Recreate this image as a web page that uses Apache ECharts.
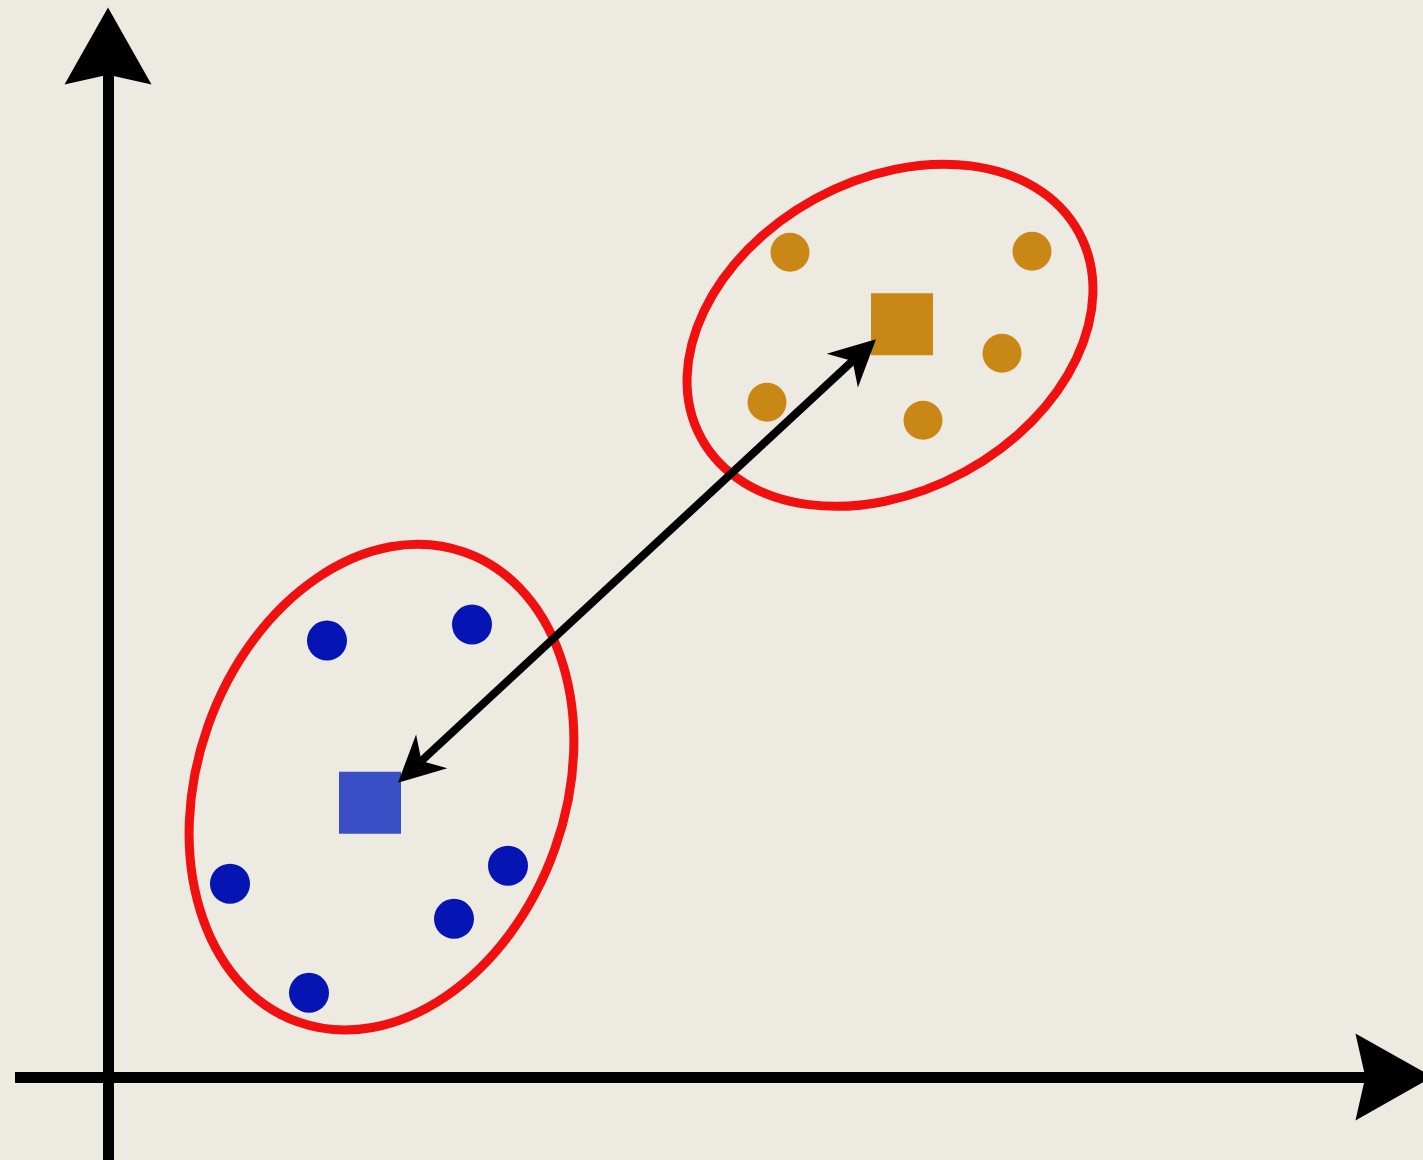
<!DOCTYPE html>
<html><head><meta charset="utf-8">
<script src="https://cdn.jsdelivr.net/npm/echarts@6/dist/echarts.min.js"></script>
<style>html,body{margin:0;padding:0;background:#EDEAE1;overflow:hidden}#c{width:1423px;height:1160px}</style>
</head><body><div id="c"></div>
<script>
// Cluster A (blue) members and centroid
const blueDots = [[2.19,4.36],[3.64,4.52],[1.22,1.93],[4.00,2.11],[3.46,1.58],[2.01,0.84]];
const blueCentroid = [[2.62,2.74]];
// Cluster B (gold) members and centroid
const goldDots = [[6.82,8.24],[9.24,8.25],[8.94,7.23],[6.59,6.74],[8.15,6.56]];
const goldCentroid = [[7.94,7.52]];
// cluster boundaries: [centerX, centerY, semiAxisX, semiAxisY, tiltDeg]
const clusterEllipses = [[2.735,2.895,1.84,2.49,-19.5],[7.82,7.41,2.15,1.555,28.6]];
// link between centroids: [x1, y1, x2, y2]
const centroidLink = [[2.90,2.94,7.68,7.37]];
// axis extents
const xRange = [-0.93, 12.86];
const yRange = [-0.83, 10.30];

const arrowPath = 'path://M0,0 L44,78 L0,68 L-44,78 Z';
const chart = echarts.init(document.getElementById('c'), null, {renderer:'canvas'});
const axisCommon = {
  type:'value',
  axisLine:{show:true,onZero:true,symbol:['none',arrowPath],symbolSize:[87,78],lineStyle:{color:'#000',width:11,cap:'butt'}},
  axisTick:{show:false},axisLabel:{show:false},splitLine:{show:false}
};
chart.setOption({
  animation:false,
  backgroundColor:'#EDEAE1',
  grid:{left:15,right:29,top:46,bottom:0,containLabel:false},
  xAxis:Object.assign({min:xRange[0],max:xRange[1]},axisCommon),
  yAxis:Object.assign({min:yRange[0],max:yRange[1]},axisCommon),
  series:[
    {
      type:'custom', z:2, silent:true, clip:false,
      data:clusterEllipses,
      renderItem:function(params, api){
        const c = api.coord([api.value(0), api.value(1)]);
        const s = api.size([api.value(2), api.value(3)]);
        return {type:'ellipse', x:c[0], y:c[1], rotation:api.value(4)*Math.PI/180,
          shape:{cx:0,cy:0,rx:s[0],ry:s[1]},
          style:{fill:'none',stroke:'#F01010',lineWidth:9}};
      }
    },
    {type:'scatter', z:3, silent:true, data:blueDots, symbol:'circle', symbolSize:40, itemStyle:{color:'#0714B4',opacity:1}},
    {type:'scatter', z:3, silent:true, data:blueCentroid, symbol:'rect', symbolSize:62, itemStyle:{color:'#3A4FC6',opacity:1}},
    {type:'scatter', z:3, silent:true, data:goldDots, symbol:'circle', symbolSize:39, itemStyle:{color:'#C98816',opacity:1}},
    {type:'scatter', z:3, silent:true, data:goldCentroid, symbol:'rect', symbolSize:62, itemStyle:{color:'#C98816',opacity:1}},
    {
      type:'custom', z:4, silent:true, clip:false,
      data:centroidLink,
      renderItem:function(params, api){
        const a = api.coord([api.value(0), api.value(1)]);
        const b = api.coord([api.value(2), api.value(3)]);
        const dx=b[0]-a[0], dy=b[1]-a[1], len=Math.hypot(dx,dy);
        const ux=dx/len, uy=dy/len, px=-uy, py=ux;
        const L=46, W=23, N=32;
        function head(t, ex, ey){
          return [[t[0],t[1]],[t[0]-ex*L+px*W,t[1]-ey*L+py*W],[t[0]-ex*N,t[1]-ey*N],[t[0]-ex*L-px*W,t[1]-ey*L-py*W]];
        }
        return {type:'group', children:[
          {type:'line', shape:{x1:a[0]+ux*N,y1:a[1]+uy*N,x2:b[0]-ux*N,y2:b[1]-uy*N}, style:{stroke:'#000',lineWidth:8}},
          {type:'polygon', shape:{points:head(b,ux,uy)}, style:{fill:'#000'}},
          {type:'polygon', shape:{points:head(a,-ux,-uy)}, style:{fill:'#000'}}
        ]};
      }
    }
  ]
});
</script>
</body></html>
